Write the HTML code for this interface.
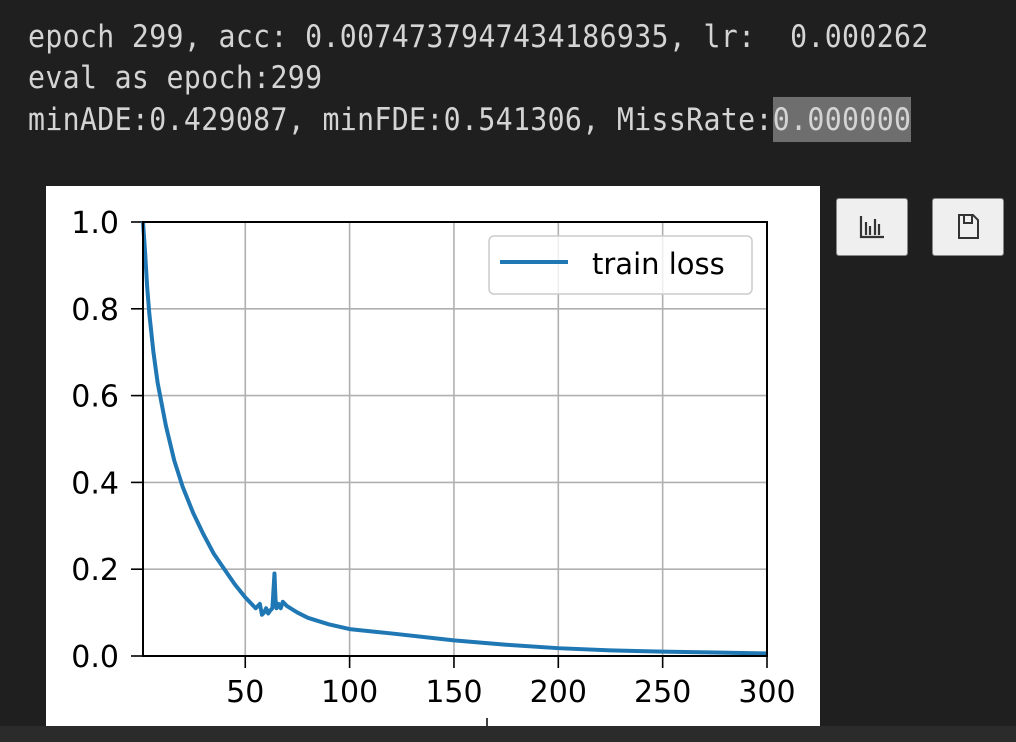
<!DOCTYPE html>
<html><head><meta charset="utf-8">
<style>
html,body{margin:0;padding:0;width:1016px;height:742px;background:#1f1f1f;overflow:hidden}
.line{position:absolute;left:28px;font-family:"DejaVu Sans Mono","Liberation Mono",monospace;font-size:28.2px;color:#d4d4d4;white-space:pre;letter-spacing:0.35px;transform:scaleY(1.1);transform-origin:0 50%}
.hl{background:#6e6e6e;padding:4px 0}
.btn{position:absolute;top:198px;width:72px;height:58px;background:#efefef;border:1px solid #888;border-radius:3px;box-sizing:border-box}
</style></head><body>
<div class="line" style="top:20px">epoch 299, acc: 0.0074737947434186935, lr:  0.000262</div>
<div class="line" style="top:61px">eval as epoch:299</div>
<div class="line" style="top:103px">minADE:0.429087, minFDE:0.541306, MissRate:<span class="hl">0.000000</span></div>
<div style="position:absolute;left:46px;top:186px;width:774px;height:540px;background:#fff"></div>
<div style="position:absolute;left:0;top:726px;width:1016px;height:16px;background:#2b2b2b"></div>
<div class="btn" style="left:836px">
<svg width="70" height="56"><g stroke="#333" stroke-width="2.2" fill="none"><path d="M24 17 V38 H47"/><path d="M29 36 V23 M33 36 V27 M38 36 V20 M42 36 V25"/></g></svg></div>
<div class="btn" style="left:932px">
<svg width="70" height="56"><path d="M26 16 H40 L45 21 V39 H26 Z M31 16 V24 H39 V16" fill="none" stroke="#333" stroke-width="2"/></svg></div>
<svg id="chart" width="1016" height="742" style="position:absolute;left:0;top:0"></svg>
<script>
const epochs=[1,2,3,4,6,8,12,16,20,25,30,35,40,45,50,55,57,58,59,60,61,62,63,64,64.5,65,66,67,68,70,75,80,90,100,120,150,175,200,225,250,275,300];
const lossValues=[1.0,0.93,0.85,0.79,0.70,0.63,0.53,0.45,0.39,0.33,0.28,0.235,0.20,0.165,0.135,0.11,0.12,0.095,0.10,0.11,0.098,0.105,0.11,0.19,0.13,0.11,0.12,0.11,0.125,0.115,0.10,0.088,0.073,0.062,0.052,0.036,0.026,0.018,0.013,0.010,0.008,0.006];
const xTicks=[50,100,150,200,250,300];
const yTicks=[0,0.2,0.4,0.6,0.8,1.0];
const yTickLabels=["0.0","0.2","0.4","0.6","0.8","1.0"];
const L=143,R=767,T=222,B=656;
const xs=v=>L+(v-1)/(300-1)*(R-L);
const ys=v=>B-v/1.0*(B-T);
const svg=document.getElementById('chart');
const NS='http://www.w3.org/2000/svg';
function mk(t,a){const e=document.createElementNS(NS,t);for(const k in a)e.setAttribute(k,a[k]);svg.appendChild(e);return e;}
xTicks.forEach(v=>{
const g=mk('line',{x1:xs(v),x2:xs(v),y1:T,y2:B,stroke:'#b0b0b0','stroke-width':1.6});


const t=mk('line',{x1:xs(v),x2:xs(v),y1:B,y2:B+12,stroke:'#000','stroke-width':1.6});


const l=mk('text',{x:xs(v),y:B+46,'text-anchor':'middle','font-family':'DejaVu Sans, sans-serif','font-size':30,fill:'#000'});
l.textContent=v;


});
yTicks.forEach((v,i)=>{
const g=mk('line',{x1:L,x2:R,y1:ys(v),y2:ys(v),stroke:'#b0b0b0','stroke-width':1.6});


const t=mk('line',{x1:L-12,x2:L,y1:ys(v),y2:ys(v),stroke:'#000','stroke-width':1.6});


const l=mk('text',{x:L-24,y:ys(v)+11,'text-anchor':'end','font-family':'DejaVu Sans, sans-serif','font-size':30,fill:'#000'});
l.textContent=yTickLabels[i];


});
const p=mk('polyline',{points:epochs.map((e,i)=>xs(e)+','+ys(lossValues[i])).join(' '),fill:'none',stroke:'#1f77b4','stroke-width':4,'stroke-linejoin':'round'});


const fr=mk('rect',{x:L,y:T,width:R-L,height:B-T,fill:'none',stroke:'#000','stroke-width':2});


const lb=mk('rect',{x:489,y:236,width:263,height:58,rx:5,fill:'#fff','fill-opacity':0.8,stroke:'#ccc','stroke-width':1.5});


const ll=mk('line',{x1:500,x2:568,y1:262,y2:262,stroke:'#1f77b4','stroke-width':4});


const lt=mk('text',{x:592,y:274,'font-family':'DejaVu Sans, sans-serif','font-size':29,fill:'#000'});
lt.textContent='train loss';


const sm=mk('line',{x1:487,x2:487,y1:718,y2:726,stroke:'#000','stroke-width':1.5});


</script>
</body></html>
